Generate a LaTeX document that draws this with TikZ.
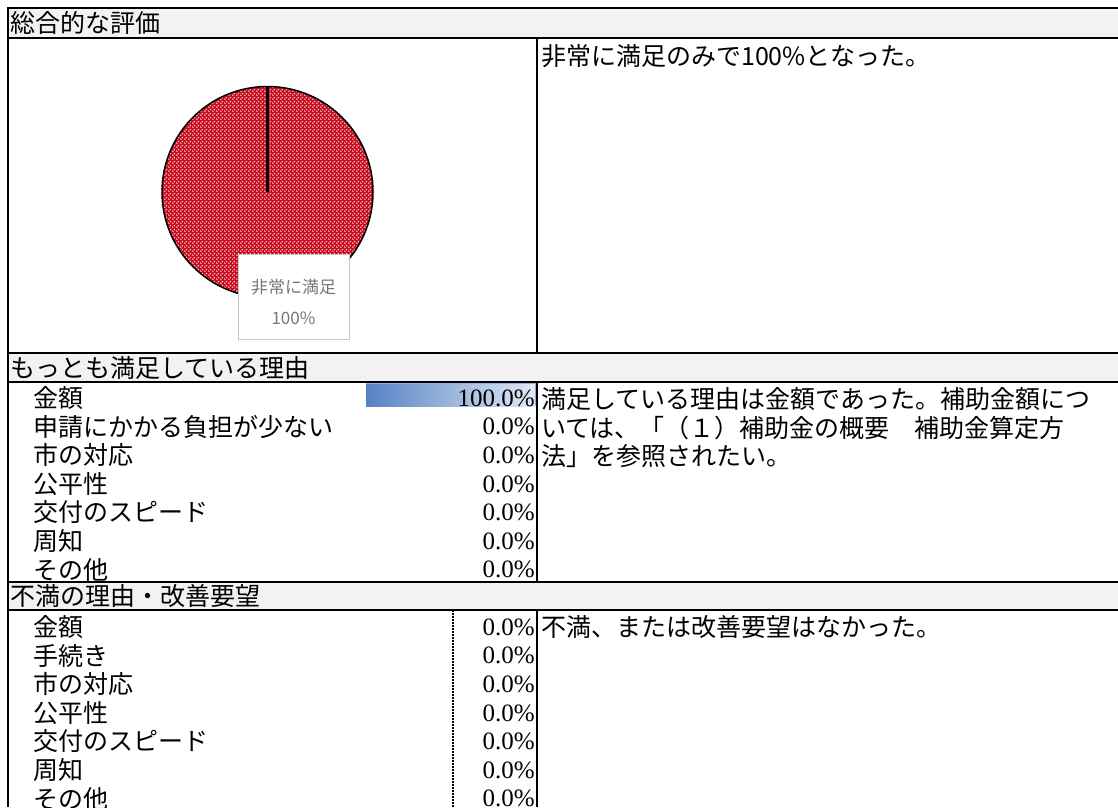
\documentclass[tikz,border=0pt]{standalone}
\usepackage{fontspec}
\setmainfont{Noto Sans CJK JP}
\newfontfamily\numfont{Liberation Serif}
\usetikzlibrary{patterns.meta}
\definecolor{headgray}{RGB}{242,242,242}
\definecolor{piered}{RGB}{200,14,30}
\definecolor{piedot}{RGB}{244,206,214}
\definecolor{bardark}{RGB}{86,130,196}
\definecolor{barlight}{RGB}{224,233,246}
\definecolor{barline}{RGB}{140,172,218}
\definecolor{lblgray}{RGB}{118,118,118}
\definecolor{lblline}{RGB}{200,200,200}
\tikzdeclarepattern{
  name=piedots,
  type=uncolored,
  bottom left={(0pt,0pt)},
  top right={(4pt,4pt)},
  tile size={(4pt,4pt)},
  code={
    \fill (1pt,1pt) circle (1pt);
    \fill (3pt,3pt) circle (1pt);
  }
}

\begin{document}
\begin{tikzpicture}[x=1pt,y=-1pt,
  rule/.style={line width=2pt},
  head/.style={fill=headgray},
  cell/.style={anchor=west,inner sep=0pt,font=\fontsize{25}{28}\selectfont,text height=22pt,text depth=3pt},
  val/.style={anchor=east,inner sep=0pt,font=\numfont\fontsize{25}{28}\selectfont,text height=18pt,text depth=1.5pt},
  pielabel/.style={inner sep=0pt,text=lblgray,font=\fontsize{17}{20}\selectfont}]
\useasboundingbox (0,0) rectangle (1118,807);
% title rows
\fill[head] (7.5,7.5) rectangle (1118,37.7);
\fill[head] (7.5,353) rectangle (1118,382);
\fill[head] (7.5,582) rectangle (1118,609.5);
% pie
\coordinate (pc) at (267.5,192);
\coordinate (pctop) at (267.5,86.5);
\fill[piered] (pc) circle (105.5);
\fill[pattern=piedots,pattern color=piedot] (pc) circle (105.5);
\draw[line width=1.5pt] (pc) circle (105.5);
\draw[line width=2.4pt] (pc) -- (pctop);
\node[draw=lblline,fill=white,line width=1pt,minimum width=111pt,minimum height=85pt] (pielbl) at (293.5,296.5) {};
\node[pielabel] (pielbl1) at (293.5,287) {非常に満足};
\node[pielabel] (pielbl2) at (293.5,318) {100\%};
% bar
\shade[left color=bardark,right color=barlight] (366,383) rectangle (535,406);
\draw[barline,line width=0.8pt] (366,383) -- (535,383) -- (535,406);
\draw[line width=1.2pt,dash pattern=on 2pt off 1pt] (453,609.5) -- (453,807);
% rules
\draw[rule] (7.5,7.5) -- (1118,7.5);
\draw[rule] (7.5,37.7) -- (1118,37.7);
\draw[rule] (7.5,353) -- (1118,353);
\draw[rule] (7.5,382) -- (1118,382);
\draw[rule] (7.5,582) -- (1118,582);
\draw[rule] (7.5,609.5) -- (1118,609.5);
\draw[rule] (7.5,6.5) -- (7.5,807);
\draw[rule] (537,37.7) -- (537,353);
\draw[rule] (537,382) -- (537,582);
\draw[rule] (537,609.5) -- (537,807);

\node[cell] (t1) at (10,23) {総合的な評価};
\node[cell] (t1r) at (541,56) {非常に満足のみで100\%となった。};

\node[cell] (t2) at (10,368) {もっとも満足している理由};
\node[cell] (m1) at (33,398) {金額};
\node[val] (m1v) at (535,398) {100.0\%};
\node[cell] (m2) at (33,426.6) {申請にかかる負担が少ない};
\node[val] (m2v) at (535,426.6) {0.0\%};
\node[cell] (m3) at (33,455.2) {市の対応};
\node[val] (m3v) at (535,455.2) {0.0\%};
\node[cell] (m4) at (33,483.8) {公平性};
\node[val] (m4v) at (535,483.8) {0.0\%};
\node[cell] (m5) at (33,512.4) {交付のスピード};
\node[val] (m5v) at (535,512.4) {0.0\%};
\node[cell] (m6) at (33,541) {周知};
\node[val] (m6v) at (535,541) {0.0\%};
\node[cell] (m7) at (33,569.6) {その他};
\node[val] (m7v) at (535,569.6) {0.0\%};
\node[cell] (m1r) at (541,399) {満足している理由は金額であった。補助金額につ};
\node[cell] (m2r) at (541,427.6) {いては、「（１）補助金の概要　補助金算定方};
\node[cell] (m3r) at (541,456.2) {法」を参照されたい。};

\node[cell] (t3) at (10,596) {不満の理由・改善要望};
\node[cell] (f1) at (33,627) {金額};
\node[val] (f1v) at (535,627) {0.0\%};
\node[cell] (f2) at (33,655.6) {手続き};
\node[val] (f2v) at (535,655.6) {0.0\%};
\node[cell] (f3) at (33,684.2) {市の対応};
\node[val] (f3v) at (535,684.2) {0.0\%};
\node[cell] (f4) at (33,712.8) {公平性};
\node[val] (f4v) at (535,712.8) {0.0\%};
\node[cell] (f5) at (33,741.4) {交付のスピード};
\node[val] (f5v) at (535,741.4) {0.0\%};
\node[cell] (f6) at (33,770) {周知};
\node[val] (f6v) at (535,770) {0.0\%};
\node[cell] (f7) at (33,798.6) {その他};
\node[val] (f7v) at (535,798.6) {0.0\%};
\node[cell] (f1r) at (541,627) {不満、または改善要望はなかった。};

\end{tikzpicture}
\end{document}
